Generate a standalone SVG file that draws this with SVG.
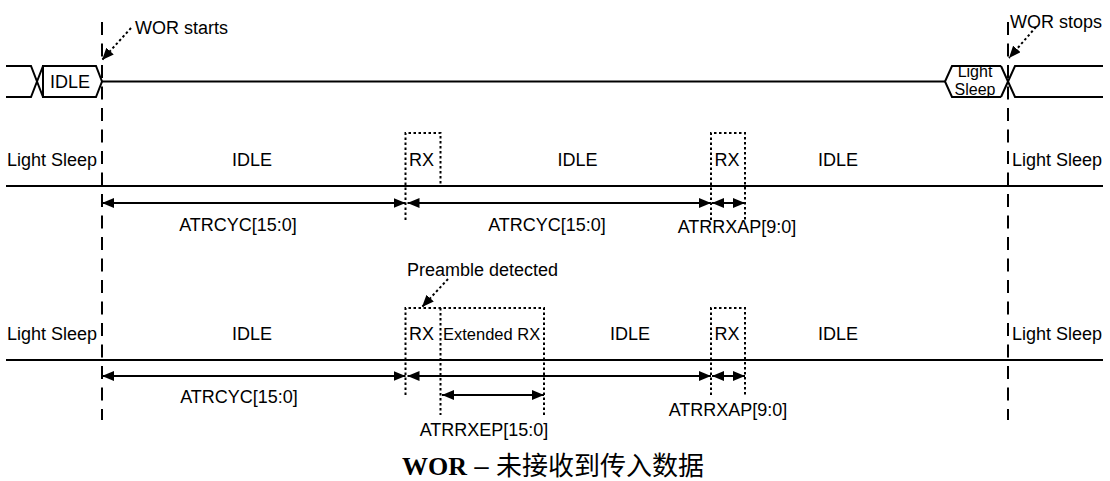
<svg xmlns="http://www.w3.org/2000/svg" width="1110" height="481" viewBox="0 0 1110 481">
<style>
  .ln { stroke:#000; stroke-width:2; fill:none; }
  .dash { stroke:#000; stroke-width:2; fill:none; stroke-dasharray:13 8.5; }
  .dot { stroke:#000; stroke-width:2; fill:none; stroke-dasharray:2.5 2.5; }
  .arr { stroke:#000; stroke-width:2; fill:none; marker-start:url(#ah); marker-end:url(#ah); }
  .darr { stroke:#000; stroke-width:2; fill:none; stroke-dasharray:2.5 2.5; marker-end:url(#ah); }
  text { font-family:"Liberation Sans", Arial, sans-serif; font-size:18px; fill:#000; }
  .c { text-anchor:middle; }
  .small { font-size:16.5px; }
  .hex { font-size:16px; }
</style>
<defs>
  <marker id="ah" viewBox="0 0 12 10" refX="12" refY="5" markerWidth="12" markerHeight="10" markerUnits="userSpaceOnUse" orient="auto-start-reverse">
    <path d="M0,0 L12,5 L0,10 z" fill="#000"/>
  </marker>
</defs>

<g id="markers-vertical">
  <line class="dash" x1="102" y1="22" x2="102" y2="420"/>
  <line class="dash" x1="1008" y1="22" x2="1008" y2="420"/>
</g>

<g id="row1">
  <polyline class="ln" points="6,66 31,66 43,97"/>
  <polyline class="ln" points="6,97 31,97 43,66"/>
  <polygon id="idle-hex" class="ln" points="43,66 96,66 102,81.5 96,97 43,97"/>
  <text class="c" x="70" y="88">IDLE</text>
  <line class="ln" x1="102" y1="81.5" x2="945" y2="81.5"/>
  <polyline id="sleep-hex" class="ln" points="1001,66 952,66 945,81.5 952,97 1001,97"/>
  <polyline class="ln" points="1001,66 1015,97 1103,97"/>
  <polyline class="ln" points="1001,97 1015,66 1103,66"/>
  <text class="c hex" x="975" y="77">Light</text>
  <text class="c hex" x="975" y="95">Sleep</text>
</g>

<g id="annotations">
  <line class="darr" x1="131" y1="28" x2="102" y2="60"/>
  <text x="135" y="34">WOR starts</text>
  <line class="darr" x1="1036" y1="27" x2="1009" y2="58"/>
  <text x="1010" y="28">WOR stops</text>
  <line class="darr" x1="448" y1="279" x2="422" y2="307"/>
  <text x="407" y="276">Preamble detected</text>
</g>

<g id="row2">
  <line class="ln" x1="6" y1="186" x2="1103" y2="186"/>
  <polyline class="dot" points="405.5,220 405.5,133 440.5,133 440.5,186"/>
  <polyline class="dot" points="711,220 711,133 745,133 745,220"/>
  <text x="7" y="166">Light Sleep</text>
  <text class="c" x="252" y="166">IDLE</text>
  <text class="c" x="421.5" y="166">RX</text>
  <text class="c" x="577.5" y="166">IDLE</text>
  <text class="c" x="727" y="166">RX</text>
  <text class="c" x="838" y="166">IDLE</text>
  <text x="1012" y="166">Light Sleep</text>
  <line class="arr" x1="102" y1="203" x2="405.5" y2="203"/>
  <line class="arr" x1="407.5" y1="203" x2="711" y2="203"/>
  <line class="arr" x1="712" y1="203" x2="745" y2="203"/>
  <text class="c" x="238" y="231">ATRCYC[15:0]</text>
  <text class="c" x="547" y="231">ATRCYC[15:0]</text>
  <text class="c" x="737" y="233">ATRRXAP[9:0]</text>
</g>

<g id="row3">
  <line class="ln" x1="6" y1="360" x2="1103" y2="360"/>
  <polyline class="dot" points="405.5,395 405.5,308 544,308 544,415"/>
  <line class="dot" x1="440.5" y1="308" x2="440.5" y2="415"/>
  <polyline class="dot" points="711,395 711,308 745,308 745,395"/>
  <text x="7" y="340">Light Sleep</text>
  <text class="c" x="252" y="340">IDLE</text>
  <text class="c" x="421.5" y="340">RX</text>
  <text class="small" x="443" y="340">Extended RX</text>
  <text class="c" x="630" y="340">IDLE</text>
  <text class="c" x="727" y="340">RX</text>
  <text class="c" x="838" y="340">IDLE</text>
  <text x="1012" y="340">Light Sleep</text>
  <line class="arr" x1="102" y1="376" x2="405.5" y2="376"/>
  <line class="arr" x1="407.5" y1="376" x2="711" y2="376"/>
  <line class="arr" x1="712" y1="376" x2="745" y2="376"/>
  <line class="arr" x1="442" y1="395" x2="544" y2="395"/>
  <text class="c" x="239" y="403">ATRCYC[15:0]</text>
  <text class="c" x="484" y="436">ATRRXEP[15:0]</text>
  <text class="c" x="728" y="416">ATRRXAP[9:0]</text>
</g>

<g id="caption">
  <text x="402" y="475" style="font-size:26px"><tspan style="font-family:'Liberation Serif', 'Times New Roman', serif; font-weight:bold">WOR</tspan><tspan style="font-family:'Liberation Sans', 'Noto Sans CJK SC', sans-serif"> – </tspan><tspan style="font-family:'Noto Sans CJK SC', sans-serif">未接收到传入数据</tspan></text>
</g>
</svg>
